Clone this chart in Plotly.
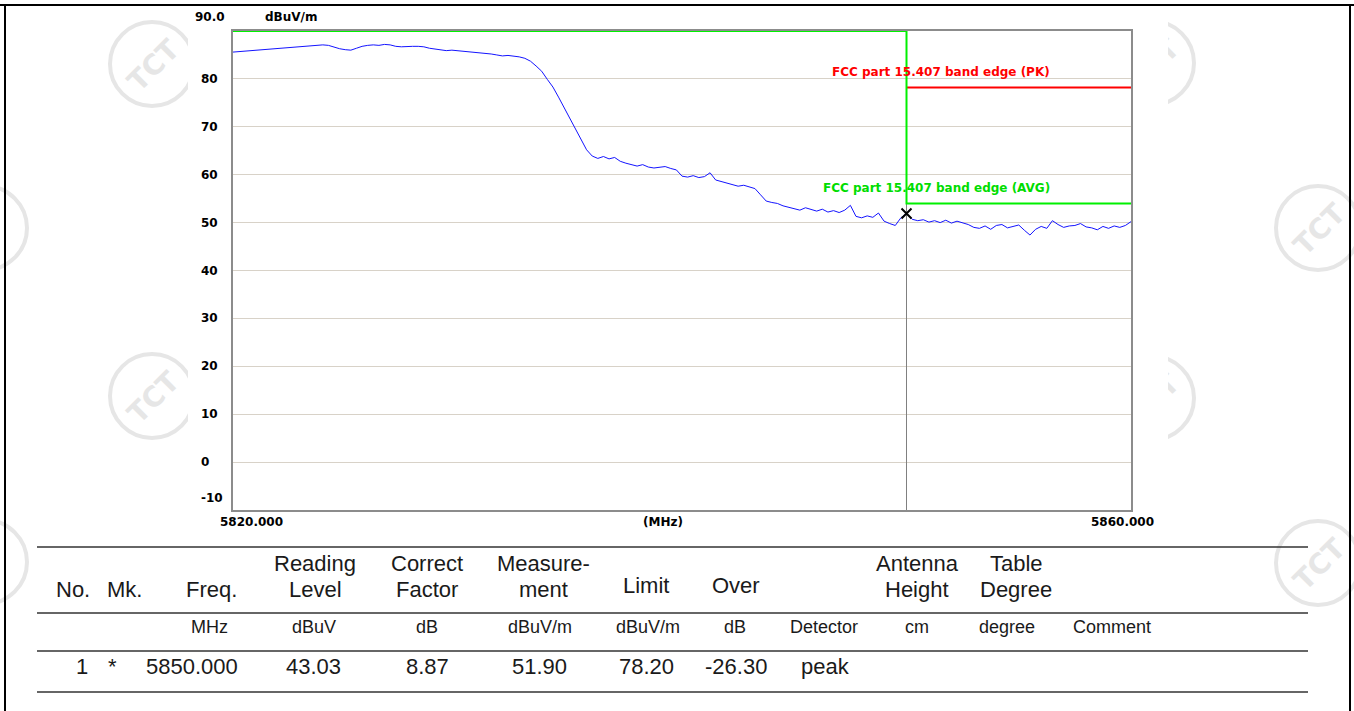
import numpy as np
import plotly.graph_objects as go

# ---------------- data ----------------
level = [85.6, 85.7, 85.8, 85.8, 85.9, 86.0, 86.1, 86.2, 86.4, 86.4,
         86.6, 86.7, 86.8, 86.9, 87.0, 87.1, 87.1, 87.0, 86.6, 86.3,
         86.1, 86.0, 86.4, 86.8, 87.0, 87.1, 87.0, 87.2, 87.1, 86.8,
         86.7, 86.8, 86.8, 86.8, 86.7, 86.4, 86.2, 86.1, 85.9, 86.0,
         85.9, 85.8, 85.7, 85.6, 85.5, 85.4, 85.2, 85.0, 84.8, 84.9,
         84.8, 84.6, 84.3, 83.7, 82.7, 81.6, 79.9, 78.3, 76.2, 74.0,
         72.1, 69.8, 67.5, 65.2, 63.9, 63.4, 63.8, 63.3, 63.6, 62.8,
         62.4, 62.1, 61.8, 62.1, 61.6, 61.4, 61.6, 61.7, 61.3, 61.0,
         59.7, 59.5, 59.8, 59.4, 59.6, 60.4, 58.9, 58.6, 58.2, 57.9,
         57.6, 57.8, 57.4, 57.1, 55.8, 54.5, 54.2, 54.0, 53.5, 53.2,
         53.0, 52.6, 53.1, 52.7, 52.4, 52.8, 52.2, 52.5, 52.1, 52.6,
         53.6, 51.3, 51.0, 51.4, 51.1, 52.0, 50.3, 49.8, 49.4, 51.0,
         51.9, 50.7, 50.4, 50.6, 50.1, 50.4, 50.0, 50.5, 49.9, 50.3,
         50.0, 49.6, 49.0, 48.8, 49.3, 48.6, 49.4, 49.6, 48.9, 49.2,
         49.5, 48.4, 47.4, 48.6, 49.2, 48.8, 50.4, 49.6, 49.0, 49.3,
         49.4, 49.8, 49.1, 48.9, 48.5, 49.2, 48.8, 49.3, 49.0, 49.4,
         50.2]
freq_start, freq_stop = 5820.0, 5860.0
freq = np.linspace(freq_start, freq_stop, len(level))

avg_limit_f = [5820, 5850, 5850, 5860]
avg_limit_v = [90, 90, 54, 54]
pk_limit_f = [5850, 5860]
pk_limit_v = [78.2, 78.2]
marker_f = [5850.0]
marker_v = [51.9]

y_ticks = [80, 70, 60, 50, 40, 30, 20, 10, 0, -10]
y_top_label = "90.0"
y_unit = "dBuV/m"
x_labels = ["5820.000", "(MHz)", "5860.000"]
pk_label = "FCC part 15.407 band edge (PK)"
avg_label = "FCC part 15.407 band edge (AVG)"

header_top = ["", "", "", "Reading", "Correct", "Measure-", "", "", "", "Antenna", "Table", ""]
header_bot = ["No.", "Mk.", "Freq.", "Level", "Factor", "ment", "Limit", "Over", "", "Height", "Degree", ""]
units = ["", "", "MHz", "dBuV", "dB", "dBuV/m", "dBuV/m", "dB", "Detector", "cm", "degree", "Comment"]
row1 = ["1", "*", "5850.000", "43.03", "8.87", "51.90", "78.20", "-26.30", "peak", "", "", ""]

# ---------------- layout helpers ----------------
W, H = 1354, 711
L, R, T, B = 233, 1131, 31, 510


def px(x):
    return (x - L) / (R - L)


def py(y):
    return (B - y) / (B - T)


col_x = [73, 124, 211, 315, 427, 543, 646, 736, 824, 917, 1016, 1112]
unit_x = [73, 124, 209, 314, 427, 540, 648, 735, 824, 917, 1007, 1112]
row_x = [82, 113, 192, 313, 427, 539, 646, 736, 825, 917, 1016, 1112]

chart_font = dict(family="DejaVu Sans", size=12, color="black", weight="bold")
table_font = dict(family="Liberation Sans", size=22, color="#1a1a1a")
unit_font = dict(family="Liberation Sans", size=18, color="#1a1a1a")

fig = go.Figure()

fig.add_trace(go.Scatter(x=[marker_f[0], marker_f[0]], y=[-10, 90], mode="lines",
                         line=dict(color="#808080", width=1), hoverinfo="skip"))
fig.add_trace(go.Scatter(x=freq, y=level, mode="lines",
                         line=dict(color="#1414ff", width=1)))
fig.add_trace(go.Scatter(x=pk_limit_f, y=pk_limit_v, mode="lines",
                         line=dict(color="#ff0000", width=2)))
fig.add_trace(go.Scatter(x=avg_limit_f, y=avg_limit_v, mode="lines", cliponaxis=False,
                         line=dict(color="#00f000", width=2)))
fig.add_trace(go.Scatter(x=marker_f, y=marker_v, mode="markers",
                         marker=dict(symbol="x-thin", size=10, color="black",
                                     line=dict(color="black", width=2))))

shapes = []
# watermarks
wm_color = "#e6e6e6"
wm_r = 42
for cx, cy, lab in [(152, 64, True), (152, 396, True), (-15, 228, False), (-15, 562, False),
                    (1152, 63, True), (1152, 398, True), (1318, 228, True), (1318, 563, True)]:
    s = dict(type="circle", xref="paper", yref="paper", layer="below",
             x0=px(cx - wm_r), x1=px(cx + wm_r), y0=py(cy + wm_r), y1=py(cy - wm_r),
             line=dict(color=wm_color, width=4))
    if lab:
        s["label"] = dict(text="TCT", textangle=-45, textposition="middle center",
                          font=dict(family="DejaVu Sans", size=28, color=wm_color,
                                    weight="bold"))
    shapes.append(s)
# white cover over the chart column (clips watermarks)
shapes.append(dict(type="rect", xref="paper", yref="paper", layer="below",
                   x0=px(188), x1=px(1168), y0=py(711), y1=py(0),
                   fillcolor="white", line=dict(width=0)))
# page frame
for x0, y0, x1, y1 in [(0, 5, W, 5), (5, 5, 5, H), (1350, 5, 1350, H)]:
    shapes.append(dict(type="line", xref="paper", yref="paper",
                       x0=px(x0), x1=px(x1), y0=py(y0), y1=py(y1),
                       line=dict(color="black", width=2)))
# table rules
for yy in [547, 613, 651, 692]:
    shapes.append(dict(type="line", xref="paper", yref="paper",
                       x0=px(37), x1=px(1308), y0=py(yy), y1=py(yy),
                       line=dict(color="#333333", width=1.5)))

ann = []
# y tick labels
for v in y_ticks:
    ann.append(dict(x=px(199), xref="paper", y=v, yref="y", text=str(v), showarrow=False,
                    xanchor="left", yanchor="middle", font=chart_font,
                    yshift=12 if v == -10 else 0))
ann.append(dict(x=px(193), xref="paper", y=py(17), yref="paper", text=y_top_label,
                showarrow=False, xanchor="left", yanchor="middle", font=chart_font))
ann.append(dict(x=px(263), xref="paper", y=py(17), yref="paper", text=y_unit,
                showarrow=False, xanchor="left", yanchor="middle", font=chart_font))
# x labels
ann.append(dict(x=px(218), xref="paper", y=py(522), yref="paper", text=x_labels[0],
                showarrow=False, xanchor="left", yanchor="middle", font=chart_font))
ann.append(dict(x=px(663), xref="paper", y=py(522), yref="paper", text=x_labels[1],
                showarrow=False, xanchor="center", yanchor="middle", font=chart_font))
ann.append(dict(x=px(1156), xref="paper", y=py(522), yref="paper", text=x_labels[2],
                showarrow=False, xanchor="right", yanchor="middle", font=chart_font))
# limit labels
ann.append(dict(x=5856.5, xref="x", y=py(72), yref="paper", text=pk_label, showarrow=False,
                xanchor="right", yanchor="middle", font=dict(chart_font, color="#ff0000")))
ann.append(dict(x=5856.5, xref="x", y=py(188), yref="paper", text=avg_label, showarrow=False,
                xanchor="right", yanchor="middle", font=dict(chart_font, color="#00dd00")))


# table text
def cell(x, y, text, font):
    return dict(x=px(x), y=py(y), xref="paper", yref="paper", text=text,
                showarrow=False, xanchor="center", yanchor="middle", font=font)


for i in range(len(col_x)):
    if header_top[i]:
        ann.append(cell(col_x[i], 563, header_top[i], table_font))
    if header_bot[i]:
        yy = 585 if header_bot[i] in ("Limit", "Over") else 589
        ann.append(cell(col_x[i], yy, header_bot[i], table_font))
    if units[i]:
        ann.append(cell(unit_x[i], 627, units[i], unit_font))
    if row1[i]:
        ann.append(cell(row_x[i], 666, row1[i], table_font))

fig.update_layout(
    width=W, height=H, autosize=False,
    margin=dict(l=L, r=W - R, t=T, b=H - B, pad=0),
    paper_bgcolor="white", plot_bgcolor="white",
    showlegend=False,
    shapes=shapes, annotations=ann,
    xaxis=dict(range=[freq_start, freq_stop], showgrid=False, showticklabels=False,
               ticks="", zeroline=False, showline=True, linecolor="#8c8c8c",
               linewidth=2, mirror=True),
    yaxis=dict(range=[-10, 90], tickvals=y_ticks, showticklabels=False, ticks="",
               showgrid=True, gridcolor="#d8d2c8", gridwidth=1, zeroline=False,
               showline=True, linecolor="#8c8c8c", linewidth=2, mirror=True),
)

fig.write_html("out.html")
